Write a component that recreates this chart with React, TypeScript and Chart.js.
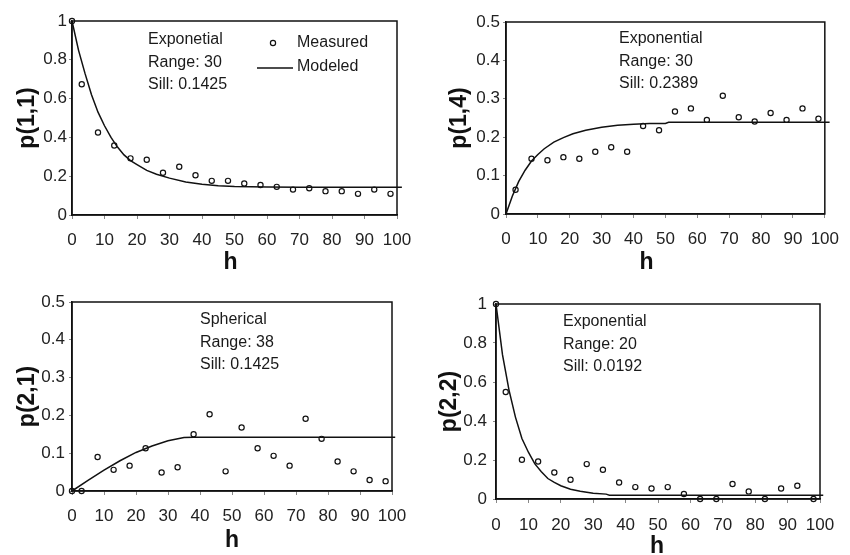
import { useEffect, useRef } from "react";
import { Chart, registerables } from "chart.js";

Chart.register(...registerables);

const FONT = "'Liberation Sans', Arial, Helvetica, sans-serif";
const INK = "#111111";

// Lag distances h at which the indicator variograms were measured
const lagsWithOrigin = [0, 3, 8, 13, 18, 23, 28, 33, 38, 43, 48, 53, 58, 63, 68, 73, 78, 83, 88, 93, 98];
const lagsFromThree = [3, 8, 13, 18, 23, 28, 33, 38, 43, 48, 53, 58, 63, 68, 73, 78, 83, 88, 93, 98];

// Measured transition probabilities
const measured11 = [1.0, 0.674, 0.425, 0.358, 0.292, 0.285, 0.218, 0.249, 0.205, 0.176, 0.176, 0.162, 0.155, 0.145, 0.131, 0.138, 0.123, 0.123, 0.109, 0.131, 0.109];
const measured14 = [0.063, 0.144, 0.14, 0.148, 0.144, 0.162, 0.174, 0.162, 0.229, 0.218, 0.267, 0.275, 0.245, 0.308, 0.252, 0.241, 0.263, 0.245, 0.275, 0.248];
const measured21 = [0, 0, 0.09, 0.056, 0.067, 0.113, 0.049, 0.063, 0.15, 0.203, 0.052, 0.168, 0.113, 0.093, 0.067, 0.191, 0.138, 0.078, 0.052, 0.029, 0.026];
const measured22 = [1.0, 0.549, 0.201, 0.192, 0.136, 0.099, 0.179, 0.15, 0.085, 0.061, 0.054, 0.061, 0.026, 0.0, 0.0, 0.077, 0.039, 0.0, 0.054, 0.068, 0.0];

// Fitted model curves
const modelLags11 = [0, 2, 4, 6, 8, 10, 12, 14, 16, 18, 20, 23, 26, 30, 35, 40, 45, 50, 55, 60, 70, 80, 90, 101.5];
const model11 = [1.0, 0.85, 0.73, 0.62, 0.53, 0.46, 0.4, 0.35, 0.31, 0.28, 0.26, 0.23, 0.21, 0.19, 0.17, 0.158, 0.151, 0.147, 0.145, 0.144, 0.143, 0.1425, 0.1425, 0.1425];

const modelLags14 = [0, 2, 4, 6, 8, 10, 12, 15, 18, 21, 25, 30, 35, 40, 45, 50, 51, 60, 80, 101.5];
const model14 = [0, 0.047, 0.085, 0.114, 0.138, 0.155, 0.17, 0.187, 0.199, 0.209, 0.218, 0.226, 0.231, 0.234, 0.236, 0.236, 0.2389, 0.2389, 0.2389, 0.2389];

const modelLags21 = [0, 5, 10, 15, 20, 25, 30, 35, 38, 101];
const model21 = [0, 0.028, 0.055, 0.08, 0.102, 0.119, 0.133, 0.1415, 0.1425, 0.1425];

const modelLags22 = [0, 2, 4, 6, 8, 10, 12, 14, 16, 18, 20, 23, 26, 30, 34, 35, 101];
const model22 = [1.0, 0.74, 0.56, 0.42, 0.31, 0.24, 0.18, 0.14, 0.105, 0.085, 0.068, 0.05, 0.04, 0.03, 0.025, 0.0192, 0.0192];

// Model descriptions printed inside each plot
const notes11 = ["Exponetial", "Range: 30", "Sill: 0.1425"];
const notes14 = ["Exponential", "Range: 30", "Sill: 0.2389"];
const notes21 = ["Spherical", "Range: 38", "Sill: 0.1425"];
const notes22 = ["Exponential", "Range: 20", "Sill: 0.0192"];

const X_TITLE = "h";

type Box = { left: number; top: number; width: number; height: number };
type Area = { left: number; top: number; right: number; bottom: number };

type PanelCfg = {
  yTitle: string;
  lags: number[];
  measured: number[];
  modelLags: number[];
  model: number[];
  yMax: number;
  yStep: number;
  notes: string[];
  legend: boolean;
  box: Box;
  area: Area;
  noteAt: [number, number];
  yTickGap: number;
  xTickGap: number;
  yTitleCenter: number;
  xTitleShift: number;
  xTitleBelow: number;
};

const panels: PanelCfg[] = [
  {
    yTitle: "p(1,1)", lags: lagsWithOrigin, measured: measured11, modelLags: modelLags11, model: model11,
    yMax: 1, yStep: 0.2, notes: notes11, legend: true,
    box: { left: 0, top: 0, width: 425, height: 275 },
    area: { left: 72, top: 21, right: 397, bottom: 215 },
    noteAt: [76, 19], yTickGap: 5, xTickGap: 15, yTitleCenter: 28, xTitleShift: -4, xTitleBelow: 48,
  },
  {
    yTitle: "p(1,4)", lags: lagsFromThree, measured: measured14, modelLags: modelLags14, model: model14,
    yMax: 0.5, yStep: 0.1, notes: notes14, legend: false,
    box: { left: 425, top: 0, width: 425, height: 275 },
    area: { left: 506, top: 22, right: 825, bottom: 214 },
    noteAt: [113, 17], yTickGap: 6, xTickGap: 15, yTitleCenter: 35, xTitleShift: -19, xTitleBelow: 49,
  },
  {
    yTitle: "p(2,1)", lags: lagsWithOrigin, measured: measured21, modelLags: modelLags21, model: model21,
    yMax: 0.5, yStep: 0.1, notes: notes21, legend: false,
    box: { left: 0, top: 278, width: 425, height: 277 },
    area: { left: 72, top: 302, right: 392, bottom: 491 },
    noteAt: [128, 18], yTickGap: 7, xTickGap: 15, yTitleCenter: 28, xTitleShift: 0, xTitleBelow: 50,
  },
  {
    yTitle: "p(2,2)", lags: lagsWithOrigin, measured: measured22, modelLags: modelLags22, model: model22,
    yMax: 1, yStep: 0.2, notes: notes22, legend: false,
    box: { left: 425, top: 280, width: 425, height: 275 },
    area: { left: 496, top: 304, right: 820, bottom: 499 },
    noteAt: [67, 18], yTickGap: 9, xTickGap: 16, yTitleCenter: 25, xTitleShift: -1, xTitleBelow: 47.5,
  },
];

// Closed frame around the plotting area
const framePlugin = {
  id: "frame",
  afterDraw(chart: any) {
    const { ctx, chartArea: a } = chart;
    ctx.save();
    ctx.strokeStyle = INK;
    ctx.lineWidth = 1.5;
    ctx.strokeRect(a.left, a.top, a.right - a.left, a.bottom - a.top);
    ctx.restore();
  },
};

// Horizontal axis title, model description text and (optionally) a series key
function notesPlugin(cfg: PanelCfg) {
  return {
    id: "notes",
    afterDraw(chart: any) {
      const { ctx, chartArea: a } = chart;
      ctx.save();
      ctx.fillStyle = INK;
      ctx.font = `bold 23px ${FONT}`;
      ctx.textAlign = "center";
      ctx.textBaseline = "middle";
      ctx.fillText(X_TITLE, (a.left + a.right) / 2 + cfg.xTitleShift, a.bottom + cfg.xTitleBelow);

      ctx.fillStyle = "#1a1a1a";
      ctx.font = `16px ${FONT}`;
      ctx.textAlign = "left";
      cfg.notes.forEach((t, i) => {
        ctx.fillText(t, a.left + cfg.noteAt[0], a.top + cfg.noteAt[1] + i * 22.5);
      });
      if (cfg.legend) {
        const ds = chart.data.datasets;
        const tx = a.left + 225;
        const y1 = a.top + 22;
        const y2 = a.top + 46;
        ctx.strokeStyle = INK;
        ctx.lineWidth = 1.2;
        ctx.beginPath();
        ctx.arc(a.left + 201, y1, 2.6, 0, Math.PI * 2);
        ctx.stroke();
        ctx.fillText(ds[0].label, tx, y1);
        ctx.lineWidth = 1.5;
        ctx.beginPath();
        ctx.moveTo(a.left + 185, y2 + 1);
        ctx.lineTo(a.left + 221, y2 + 1);
        ctx.stroke();
        ctx.fillText(ds[1].label, tx, y2);
      }
      ctx.restore();
    },
  };
}

const plainNumber = (v: number | string) => String(Number(Number(v).toFixed(3)));

function Panel({ cfg }: { cfg: PanelCfg }) {
  const ref = useRef<HTMLCanvasElement>(null);

  useEffect(() => {
    const { box, area } = cfg;
    const tickFont = { family: FONT, size: 17 };
    const titleFont = { family: FONT, size: 23, weight: "bold" as const, lineHeight: 1 };
    const chart = new Chart(ref.current as HTMLCanvasElement, {
      type: "scatter",
      data: {
        datasets: [
          {
            label: "Measured",
            data: cfg.lags.map((x, i) => ({ x, y: cfg.measured[i] })),
            showLine: false,
            pointRadius: 2.6,
            pointBorderWidth: 1.2,
            pointBorderColor: INK,
            pointBackgroundColor: "rgba(255,255,255,0)",
            clip: false,
            order: 0,
          },
          {
            label: "Modeled",
            data: cfg.modelLags.map((x, i) => ({ x, y: cfg.model[i] })),
            showLine: true,
            pointRadius: 0,
            borderColor: INK,
            borderWidth: 1.5,
            tension: 0,
            clip: false,
            order: 1,
          },
        ],
      },
      options: {
        animation: false,
        responsive: false,
        devicePixelRatio: 1,
        layout: {
          padding: {
            top: area.top - box.top,
            right: box.left + box.width - area.right,
            left: 0,
            bottom: 0,
          },
        },
        plugins: { legend: { display: false }, tooltip: { enabled: false } },
        scales: {
          x: {
            type: "linear",
            min: 0,
            max: 100,
            ticks: { stepSize: 10, padding: cfg.xTickGap - 4, color: "#222", font: tickFont, maxRotation: 0, callback: plainNumber },
            grid: { drawOnChartArea: false, drawTicks: true, tickLength: 4, color: "#888", lineWidth: 1 },
            border: { display: true, color: INK, width: 1.5 },
            afterFit: (s: any) => {
              s.height = box.top + box.height - area.bottom;
            },
          },
          y: {
            type: "linear",
            min: 0,
            max: cfg.yMax,
            ticks: { stepSize: cfg.yStep, padding: cfg.yTickGap - 3, color: "#222", font: tickFont, callback: plainNumber },
            grid: { drawOnChartArea: false, drawTicks: true, tickLength: 3, color: "#888", lineWidth: 1 },
            border: { display: true, color: INK, width: 1.5 },
            title: {
              display: true,
              text: cfg.yTitle,
              color: INK,
              font: titleFont,
              padding: { top: cfg.yTitleCenter - 11.5, bottom: 0 },
            },
            afterFit: (s: any) => {
              s.width = area.left - box.left;
            },
          },
        },
      },
      plugins: [framePlugin, notesPlugin(cfg)],
    } as any);
    return () => chart.destroy();
  }, [cfg]);

  return (
    <canvas
      ref={ref}
      width={cfg.box.width}
      height={cfg.box.height}
      style={{
        position: "absolute",
        left: cfg.box.left,
        top: cfg.box.top,
        width: cfg.box.width,
        height: cfg.box.height,
      }}
    />
  );
}

export default function App() {
  return (
    <div
      style={{
        position: "fixed",
        left: 0,
        top: 0,
        width: 850,
        height: 555,
        overflow: "hidden",
        background: "#ffffff",
      }}
    >
      {panels.map((p) => (
        <Panel key={p.yTitle} cfg={p} />
      ))}
    </div>
  );
}
